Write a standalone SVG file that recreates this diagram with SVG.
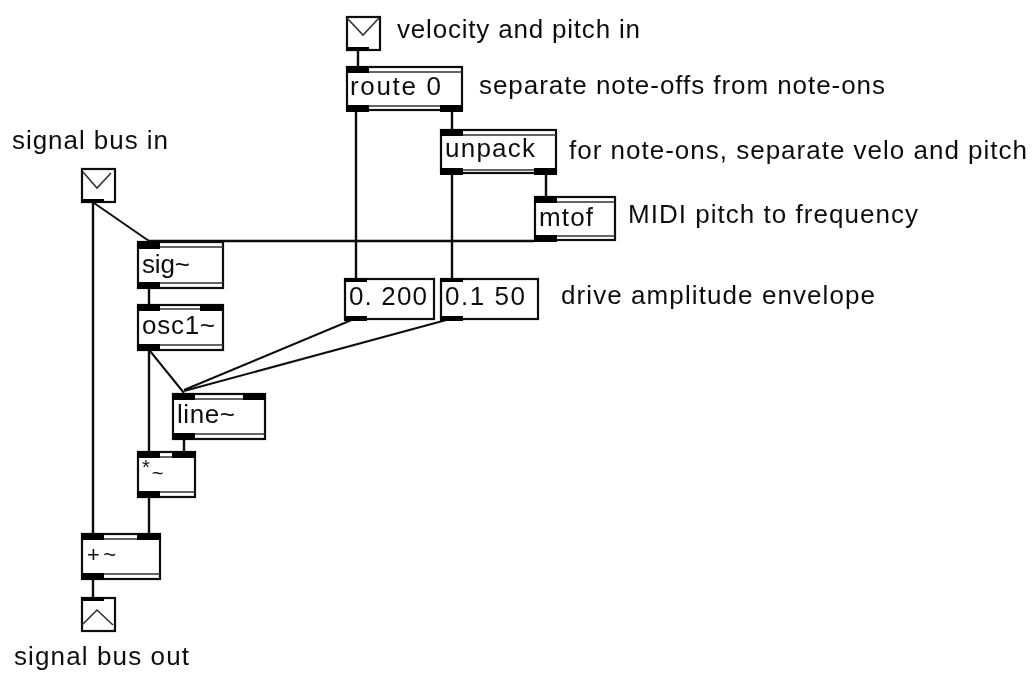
<svg xmlns="http://www.w3.org/2000/svg" width="1032" height="673" viewBox="0 0 1032 673">
<defs><filter id="soft" x="0" y="0" width="100%" height="100%"><feGaussianBlur stdDeviation="0.5"/></filter></defs>
<style>
text{font-family:"Liberation Sans",Arial,sans-serif;font-size:26px;fill:#111}
.b{fill:#fff;stroke:#111;stroke-width:2.2}
.p{fill:#000}
.t{fill:none;stroke:#333;stroke-width:1.6}
.c{fill:none;stroke:#111;stroke-width:2.4}
.d{stroke-width:2}
</style>
<rect width="1032" height="673" fill="#fff"/>
<g filter="url(#soft)">
<g id="connectors" class="c">
<path d="M358 50V66"/>
<path d="M356 110V278"/>
<path d="M452 110V129"/>
<path d="M452 174V278"/>
<path d="M546 174V196"/>
<path d="M148 241H534"/>
<path d="M93 202V533"/>
<path d="M94 203L149 241" class="d"/>
<path d="M149 288V304"/>
<path d="M149 350V451"/>
<path d="M150 351L184 393" class="d"/>
<path d="M354 319L184 390" class="d"/>
<path d="M450 319L184 391" class="d"/>
<path d="M184 439V451"/>
<path d="M149 497V533"/>
<path d="M93 579V597"/>
</g>
<g id="in-velocity"><rect class="b" x="347" y="17" width="33" height="33"/><path class="t" d="M347 18L363 35L379 18"/><rect class="p" x="346" y="47" width="23" height="4"/></g>
<g id="route"><rect class="b" x="347" y="67" width="115" height="43"/><path class="t" d="M347 72H462M347 106H462"/><rect class="p" x="346" y="66" width="23" height="7"/><rect class="p" x="346" y="105" width="23" height="7"/><rect class="p" x="440" y="105" width="23" height="7"/><text x="350" y="95" textLength="91" lengthAdjust="spacing">route 0</text></g>
<g id="unpack"><rect class="b" x="441" y="130" width="115" height="43"/><path class="t" d="M441 135H556M441 170H556"/><rect class="p" x="440" y="129" width="23" height="7"/><rect class="p" x="440" y="168" width="23" height="7"/><rect class="p" x="534" y="168" width="23" height="7"/><text x="445" y="157" textLength="90" lengthAdjust="spacing">unpack</text></g>
<g id="mtof"><rect class="b" x="535" y="197" width="80" height="43"/><path class="t" d="M535 202H615M535 236H615"/><rect class="p" x="534" y="196" width="23" height="7"/><rect class="p" x="534" y="235" width="23" height="7"/><text x="539" y="226" textLength="54" lengthAdjust="spacing">mtof</text></g>
<g id="in-signal"><rect class="b" x="82" y="169" width="33" height="33"/><path class="t" d="M83 172L97 188L111 173"/><rect class="p" x="81" y="199" width="23" height="4"/></g>
<g id="sig"><rect class="b" x="138" y="242" width="85" height="46"/><path class="t" d="M138 247H223M138 283H223"/><rect class="p" x="137" y="241" width="23" height="8"/><rect class="p" x="137" y="282" width="23" height="7"/><text x="142" y="273" textLength="48" lengthAdjust="spacing">sig~</text></g>
<g id="osc"><rect class="b" x="138" y="305" width="85" height="45"/><path class="t" d="M138 309H223M138 345H223"/><rect class="p" x="137" y="304" width="23" height="7"/><rect class="p" x="200" y="304" width="24" height="7"/><rect class="p" x="137" y="344" width="23" height="7"/><text x="142" y="334" textLength="73" lengthAdjust="spacing">osc1~</text></g>
<g id="msg-0-200"><rect class="b" x="345" y="279" width="89" height="40"/><rect class="p" x="344" y="278" width="23" height="4"/><rect class="p" x="344" y="316" width="23" height="5"/><text x="349" y="305" textLength="78" lengthAdjust="spacing">0. 200</text></g>
<g id="msg-0-1-50"><rect class="b" x="441" y="279" width="97" height="40"/><rect class="p" x="440" y="278" width="23" height="4"/><rect class="p" x="440" y="316" width="23" height="5"/><text x="445" y="305" textLength="80" lengthAdjust="spacing">0.1 50</text></g>
<g id="line"><rect class="b" x="173" y="394" width="92" height="45"/><path class="t" d="M173 399H265M173 434H265"/><rect class="p" x="172" y="393" width="23" height="7"/><rect class="p" x="243" y="393" width="23" height="7"/><rect class="p" x="172" y="433" width="23" height="7"/><text x="177" y="423" textLength="58" lengthAdjust="spacing">line~</text></g>
<g id="mul"><rect class="b" x="138" y="452" width="57" height="45"/><path class="t" d="M138 457H195M138 492H195"/><rect class="p" x="137" y="451" width="23" height="7"/><rect class="p" x="172" y="451" width="24" height="7"/><rect class="p" x="137" y="491" width="23" height="7"/><text x="142" y="474" style="font-size:20px">*<tspan dx="2" dy="6">~</tspan></text></g>
<g id="add"><rect class="b" x="82" y="534" width="78" height="45"/><path class="t" d="M82 539H160M82 574H160"/><rect class="p" x="81" y="533" width="23" height="7"/><rect class="p" x="137" y="533" width="24" height="7"/><rect class="p" x="81" y="573" width="23" height="7"/><text x="87" y="562" style="font-size:22px" textLength="29" lengthAdjust="spacing">+~</text></g>
<g id="out-signal"><rect class="b" x="82" y="598" width="33" height="33"/><path class="t" d="M82 625L97 610L113 625"/><rect class="p" x="81" y="597" width="23" height="4"/></g>
<g id="labels">
<text x="397" y="38" textLength="243" lengthAdjust="spacing">velocity and pitch in</text>
<text x="479" y="94" textLength="406" lengthAdjust="spacing">separate note-offs from note-ons</text>
<text x="569" y="159" textLength="458" lengthAdjust="spacing">for note-ons, separate velo and pitch</text>
<text x="628" y="223" textLength="290" lengthAdjust="spacing">MIDI pitch to frequency</text>
<text x="561" y="304" textLength="314" lengthAdjust="spacing">drive amplitude envelope</text>
<text x="12" y="149" textLength="156" lengthAdjust="spacing">signal bus in</text>
<text x="14" y="665" textLength="175" lengthAdjust="spacing">signal bus out</text>
</g>
</g>
</svg>
